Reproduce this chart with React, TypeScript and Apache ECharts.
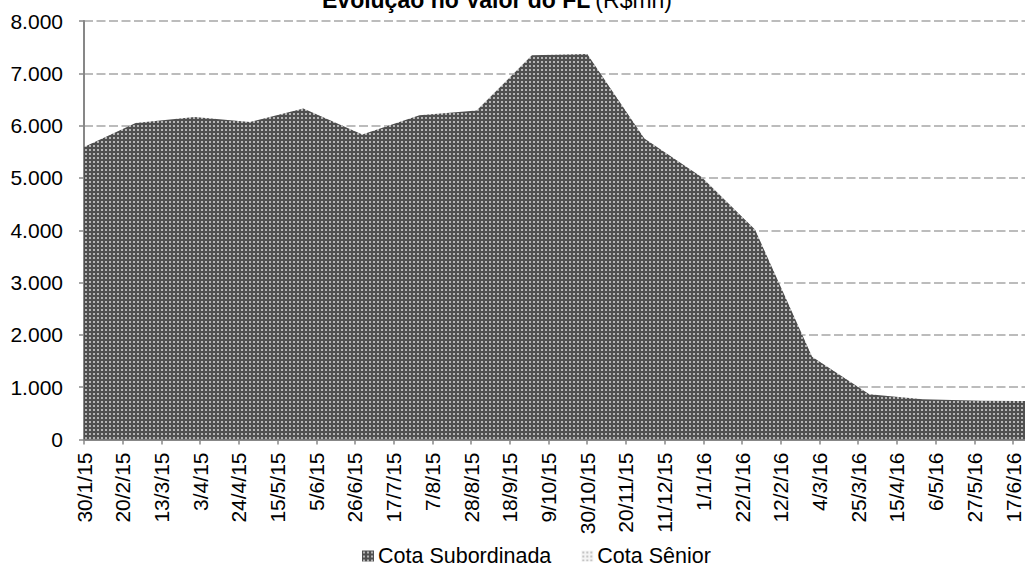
import React, { useEffect, useRef } from "react";
import * as echarts from "echarts";

// Month-end observation dates
const dates: string[] = [
  "2015-01-30", "2015-02-27", "2015-03-31", "2015-04-30", "2015-05-29", "2015-06-30",
  "2015-07-31", "2015-08-31", "2015-09-30", "2015-10-30", "2015-11-30", "2015-12-31",
  "2016-01-29", "2016-02-29", "2016-03-31", "2016-04-29", "2016-05-31", "2016-06-30",
];

// Values in R$ mn
const cotaSubordinada: number[] = [
  5590, 6050, 6165, 6070, 6325, 5830,
  6200, 6290, 7345, 7370, 5755, 5020,
  4015, 1580, 865, 770, 740, 735,
];
const cotaSenior: number[] = [
  0, 0, 0, 0, 0, 0,
  0, 0, 0, 0, 0, 0,
  0, 0, 0, 0, 0, 0,
];

const seriesNames: string[] = ["Cota Subordinada", "Cota Sênior"];
const yTicks: number[] = [0, 1000, 2000, 3000, 4000, 5000, 6000, 7000, 8000];

const START = Date.UTC(2015, 0, 30);
const END = Date.UTC(2016, 5, 30);
const DAY = 86400000;
const TICK_DAYS = 21;

const toDay = (s: string) => {
  const [y, m, d] = s.split("-").map(Number);
  return Math.round((Date.UTC(y, m - 1, d) - START) / DAY);
};

const FONT = "'Liberation Sans', Arial, sans-serif";

function makePattern(bg: string, dot: string) {
  const c = document.createElement("canvas");
  c.width = 4;
  c.height = 4;
  const ctx = c.getContext("2d")!;
  ctx.fillStyle = bg;
  ctx.fillRect(0, 0, 4, 4);
  ctx.fillStyle = dot;
  ctx.fillRect(1, 1, 2, 2);
  return { image: c, repeat: "repeat" } as any;
}

export default function App() {
  const ref = useRef<HTMLDivElement>(null);

  useEffect(() => {
    if (!ref.current) return;
    const chart = echarts.init(ref.current, undefined, { renderer: "svg" });
    const darkPat = makePattern("#4f4f4f", "#b4b4b4");
    const lightPat = makePattern("#f4f4f4", "#c4c4c4");
    const maxDay = Math.round((END - START) / DAY);

    const subData = dates.map((d, i) => [toDay(d), cotaSubordinada[i]]);
    const senData = dates.map((d, i) => [toDay(d), cotaSenior[i]]);

    chart.setOption({
      animation: false,
      backgroundColor: "#ffffff",
      title: {
        text: "{b|Evolução no Valor do FL} {n|(R$mn)}",
        left: 317,
        top: -17,
        textStyle: {
          rich: {
            b: { fontFamily: FONT, fontSize: 23, fontWeight: "bold", color: "#000" },
            n: { fontFamily: FONT, fontSize: 23, fontWeight: "normal", color: "#000" },
          },
        },
      },
      legend: {
        left: 357,
        top: 540,
        itemWidth: 12,
        itemHeight: 11,
        itemGap: 30,
        icon: "rect",
        textStyle: { fontFamily: FONT, fontSize: 21.5, color: "#000", padding: [0, 0, 0, -1] },
        data: [
          { name: seriesNames[0], itemStyle: { color: darkPat } },
          { name: seriesNames[1], itemStyle: { color: lightPat } },
        ],
      },
      grid: {
        left: 84,
        top: 21,
        bottom: 128.5,
        right: -12,
        containLabel: false,
        outerBoundsMode: "none",
      },
      xAxis: {
        type: "value",
        min: 0,
        max: maxDay,
        interval: TICK_DAYS,
        splitLine: { show: false },
        axisLine: { show: true, lineStyle: { color: "#878787", width: 2 } },
        axisTick: { show: true, length: 5, lineStyle: { color: "#878787", width: 1.5 } },
        axisLabel: {
          rotate: 90,
          margin: 13,
          fontFamily: FONT,
          fontSize: 21,
          color: "#000",
          showMaxLabel: false,
          formatter: (v: number) => {
            if (Math.round(v) % TICK_DAYS !== 0) return "";
            const dt = new Date(START + v * DAY);
            return `${dt.getUTCDate()}/${dt.getUTCMonth() + 1}/${String(dt.getUTCFullYear()).slice(2)}`;
          },
        },
      },
      yAxis: {
        type: "value",
        min: yTicks[0],
        max: yTicks[yTicks.length - 1],
        interval: 1000,
        splitLine: {
          show: true,
          lineStyle: { color: "#a6a6a6", width: 1.5, type: [9, 3.5] },
        },
        axisLine: { show: true, lineStyle: { color: "#878787", width: 2 } },
        axisTick: { show: true, length: 5, lineStyle: { color: "#878787", width: 1.5 } },
        axisLabel: {
          margin: 21,
          fontFamily: FONT,
          fontSize: 21,
          color: "#000",
          formatter: (v: number) => (v === 0 ? "0" : v.toLocaleString("de-DE")),
        },
      },
      series: [
        {
          name: seriesNames[0],
          type: "line",
          data: subData,
          showSymbol: false,
          symbol: "none",
          lineStyle: { width: 0, color: "#555" },
          itemStyle: { color: "#555" },
          areaStyle: { color: darkPat, opacity: 1, origin: "start" },
          z: 2,
        },
        {
          name: seriesNames[1],
          type: "line",
          data: senData,
          showSymbol: false,
          symbol: "none",
          lineStyle: { width: 0, color: "#ddd" },
          itemStyle: { color: "#ddd" },
          areaStyle: { color: lightPat, opacity: 1, origin: "start" },
          z: 3,
        },
      ],
    });

    return () => chart.dispose();
  }, []);

  return (
    <div
      ref={ref}
      style={{ position: "fixed", left: 0, top: 0, width: 1025, height: 568 }}
    />
  );
}
